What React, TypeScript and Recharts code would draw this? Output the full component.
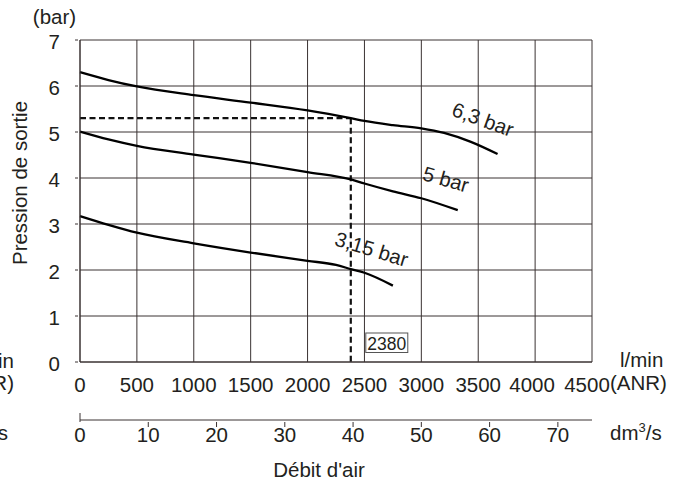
import React from "react";
import {
  LineChart, Line, XAxis, YAxis, CartesianGrid, ReferenceLine, ReferenceDot,
} from "recharts";

// l/min (ANR) on the main axis, dm3/s on the second one
const flowTicks = [0, 500, 1000, 1500, 2000, 2500, 3000, 3500, 4000, 4500];
const pressureTicks = [0, 1, 2, 3, 4, 5, 6, 7];
const dmTicks = [0, 10, 20, 30, 40, 50, 60, 70];

const curve63 = [
  { q: 0, p: 6.3 }, { q: 250, p: 6.13 }, { q: 500, p: 5.99 }, { q: 1000, p: 5.8 },
  { q: 1500, p: 5.64 }, { q: 2000, p: 5.47 }, { q: 2380, p: 5.3 }, { q: 2500, p: 5.24 },
  { q: 2750, p: 5.15 }, { q: 3000, p: 5.08 }, { q: 3200, p: 4.98 }, { q: 3430, p: 4.79 },
  { q: 3670, p: 4.52 },
];
const curve5 = [
  { q: 0, p: 5.01 }, { q: 250, p: 4.84 }, { q: 500, p: 4.7 }, { q: 1000, p: 4.51 },
  { q: 1500, p: 4.33 }, { q: 2000, p: 4.13 }, { q: 2380, p: 3.97 }, { q: 2500, p: 3.88 },
  { q: 2750, p: 3.71 }, { q: 3000, p: 3.56 }, { q: 3320, p: 3.3 },
];
const curve315 = [
  { q: 0, p: 3.17 }, { q: 250, p: 2.98 }, { q: 500, p: 2.81 }, { q: 1000, p: 2.58 },
  { q: 1500, p: 2.38 }, { q: 2000, p: 2.2 }, { q: 2250, p: 2.11 }, { q: 2380, p: 2.02 },
  { q: 2500, p: 1.94 }, { q: 2750, p: 1.66 },
];

const curveLabels = [
  { text: "6,3 bar", q: 3542, p: 5.28 },
  { text: "5 bar", q: 3217, p: 3.98 },
  { text: "3,15 bar", q: 2564, p: 2.46 },
];
const labelAngles = [20, 16, 17];

const setFlow = 2380;
const setPressure = 5.3;

const FONT = "'Liberation Sans', Arial, Helvetica, sans-serif";
const INK = "#231f20";
const GRID = "#3a3232";

// the two last flow labels sit a little to the left, to leave room for "(ANR)"
const flowNudge: Record<number, number> = { 4000: -3, 4500: -5 };

const FlowTick = ({ x, y, payload }: any) => (
  <text x={x + (flowNudge[payload.value] || 0)} y={y + 28} textAnchor="middle" fontFamily={FONT} fontSize={20.5} fill={INK}>
    {payload.value}
  </text>
);

const DmTick = ({ x, y, payload }: any) => (
  <g>
    {payload.value === 0
      ? <line x1={x} x2={x} y1={y - 9} y2={y} stroke={GRID} strokeWidth={1} />
      : <line x1={x} x2={x} y1={y} y2={y + 5} stroke={GRID} strokeWidth={1} />}
    <text x={x} y={y + 20} textAnchor="middle" fontFamily={FONT} fontSize={20.5} fill={INK}>
      {payload.value}
    </text>
  </g>
);

const PressureTick = ({ x, y, payload }: any) => (
  <g>
    <line x1={x - 3} x2={x} y1={y} y2={y} stroke={GRID} strokeWidth={1} />
    <text x={x - 18} y={y + 8.5} textAnchor="end" fontFamily={FONT} fontSize={20.5} fill={INK}>
      {payload.value}
    </text>
  </g>
);

const curveLabel = (text: string, angle: number) => (props: any) => {
  const { viewBox } = props;
  const cx = viewBox.x + viewBox.width / 2;
  const cy = viewBox.y + viewBox.height / 2;
  return (
    <text
      x={cx} y={cy} textAnchor="middle" dominantBaseline="central"
      transform={`rotate(${angle} ${cx} ${cy})`}
      fontFamily={FONT} fontSize={20.5} fill={INK}
    >
      {text}
    </text>
  );
};

const flowBox = (props: any) => {
  const { viewBox } = props;
  const cx = viewBox.x + viewBox.width / 2;
  const cy = viewBox.y + viewBox.height / 2;
  return (
    <g>
      <rect x={cx + 15} y={cy - 29} width={42} height={19.5} fill="#fff" stroke="#555" strokeWidth={1} />
      <text x={cx + 16.5} y={cy - 12} fontFamily={FONT} fontSize={17.5} fill={INK}>{setFlow}</text>
    </g>
  );
};

export default function App() {
  const dash = { stroke: "#111", strokeWidth: 2.2, strokeDasharray: "6 3.5" };
  return (
    <div style={{ position: "relative", width: 686, height: 481, background: "#fff" }}>
      <style>{"body{margin:0}"}</style>
      <LineChart width={686} height={481} margin={{ top: 40, right: 94, bottom: 0, left: 0 }}>
        <CartesianGrid stroke={GRID} strokeWidth={1} horizontalValues={pressureTicks} verticalValues={flowTicks} />
        <XAxis
          dataKey="q" type="number" domain={[0, 4500]} ticks={flowTicks} height={58}
          tickLine={false} tickSize={0} axisLine={{ stroke: GRID }} tick={<FlowTick />} interval={0}
        />
        <XAxis
          xAxisId="dm" dataKey="d" type="number" domain={[0, 75]} ticks={dmTicks} height={61}
          allowDataOverflow tickLine={false} tickSize={0} axisLine={{ stroke: GRID }} tick={<DmTick />} interval={0}
        />
        <YAxis
          type="number" domain={[0, 7]} ticks={pressureTicks} width={80}
          tickLine={false} tickSize={0} axisLine={{ stroke: GRID }} tick={<PressureTick />} interval={0}
        />
        <ReferenceLine segment={[{ x: 0, y: setPressure }, { x: setFlow, y: setPressure }]} {...dash} />
        <ReferenceLine segment={[{ x: setFlow, y: setPressure }, { x: setFlow, y: 0 }]} {...dash} />
        <Line data={curve63} dataKey="p" type="monotone" stroke="#000" strokeWidth={2.3} dot={false} isAnimationActive={false} />
        <Line data={curve5} dataKey="p" type="monotone" stroke="#000" strokeWidth={2.3} dot={false} isAnimationActive={false} />
        <Line data={curve315} dataKey="p" type="monotone" stroke="#000" strokeWidth={2.3} dot={false} isAnimationActive={false} />
        {curveLabels.map((l, i) => (
          <ReferenceDot key={l.text} x={l.q} y={l.p} r={0} fill="none" stroke="none" label={curveLabel(l.text, labelAngles[i])} />
        ))}
        <ReferenceDot x={setFlow} y={0} r={0} fill="none" stroke="none" label={flowBox} />
      </LineChart>
      <svg width={686} height={481} style={{ position: "absolute", left: 0, top: 0, pointerEvents: "none" }}>
        <g fontFamily={FONT} fontSize={20.5} fill={INK}>
          <text x={54.5} y={24} textAnchor="middle">(bar)</text>
          <text x={27} y={183} textAnchor="middle" transform="rotate(-90 27 183)">Pression de sortie</text>
          <text x={14} y={368} textAnchor="end">l/min</text>
          <text x={14} y={390} textAnchor="end">(ANR)</text>
          <text x={8} y={440} textAnchor="end">dm<tspan dy={-8} fontSize={13}>3</tspan><tspan dy={8}>/s</tspan></text>
          <text x={620} y={367}>l/min</text>
          <text x={610} y={390}>(ANR)</text>
          <text x={610} y={440}>dm<tspan dy={-8} fontSize={13}>3</tspan><tspan dy={8}>/s</tspan></text>
          <text x={319} y={477} textAnchor="middle">Débit d'air</text>
        </g>
      </svg>
    </div>
  );
}
